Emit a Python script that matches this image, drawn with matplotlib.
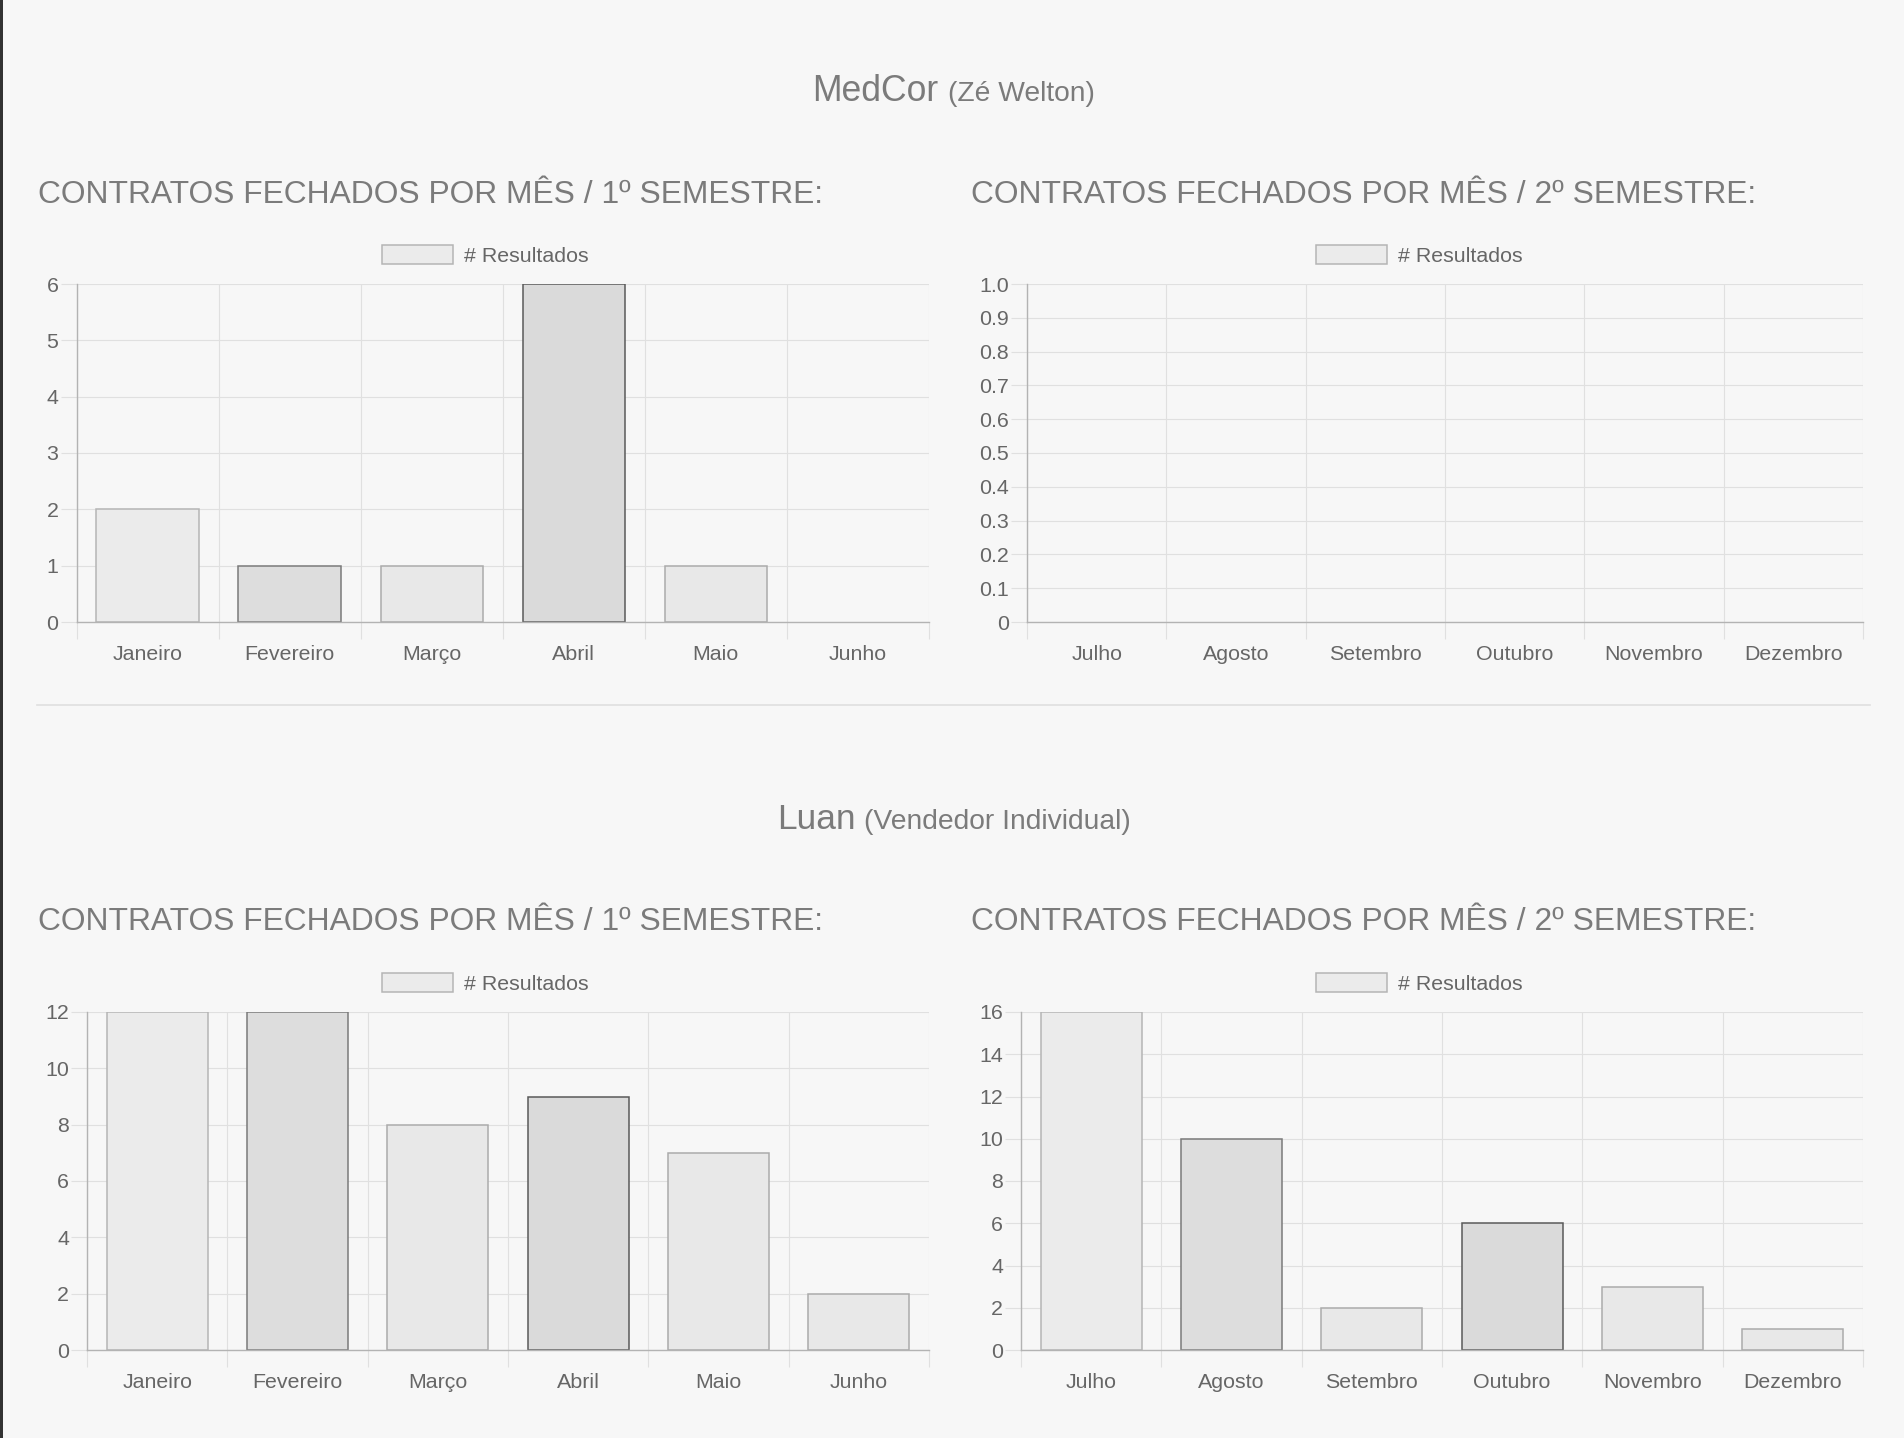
import matplotlib
matplotlib.use("Agg")
import matplotlib.pyplot as plt
from matplotlib.patches import Patch, Rectangle
from matplotlib.lines import Line2D

plt.rcParams['font.family'] = ['Liberation Sans', 'DejaVu Sans']

# ---------------- data ----------------
months_s1 = ["Janeiro", "Fevereiro", "Março", "Abril", "Maio", "Junho"]
months_s2 = ["Julho", "Agosto", "Setembro", "Outubro", "Novembro", "Dezembro"]

medcor_s1 = [2, 1, 1, 6, 1, 0]
medcor_s2 = [0, 0, 0, 0, 0, 0]
luan_s1 = [12, 12, 8, 9, 7, 2]
luan_s2 = [16, 10, 2, 6, 3, 1]

yticks_medcor_s1 = [0, 1, 2, 3, 4, 5, 6]
yticks_medcor_s2 = [0, 0.1, 0.2, 0.3, 0.4, 0.5, 0.6, 0.7, 0.8, 0.9, 1.0]
ylabels_medcor_s2 = ["0", "0.1", "0.2", "0.3", "0.4", "0.5", "0.6", "0.7", "0.8", "0.9", "1.0"]
yticks_luan_s1 = [0, 2, 4, 6, 8, 10, 12]
yticks_luan_s2 = [0, 2, 4, 6, 8, 10, 12, 14, 16]

bar_fills = ['#ebebeb', '#dddddd', '#e8e8e8', '#dadada', '#e8e8e8', '#e8e8e8']
bar_edges = ['#b5b5b5', '#7a7a7a', '#ababab', '#5a5a5a', '#ababab', '#ababab']

legend_label = "# Resultados"
title_s1 = "CONTRATOS FECHADOS POR MÊS / 1º SEMESTRE:"
title_s2 = "CONTRATOS FECHADOS POR MÊS / 2º SEMESTRE:"

# ---------------- figure ----------------
W, H = 1904, 1438
BG = '#f7f7f7'
GRID = '#e0e0e0'
AXIS = '#b3b3b3'
TICK_TXT = '#666666'
TITLE_TXT = '#7b7b7b'

fig = plt.figure(figsize=(W / 100, H / 100), dpi=100, facecolor=BG)


def fx(px):
    return px / W


def fy(py):
    return 1 - py / H


def make_chart(x0, x1, yt, yb, cats, vals, yticks, ylabels, leg_cx, leg_cy):
    ax = fig.add_axes([fx(x0), fy(yb), fx(x1 - x0), (yb - yt) / H])
    ax.set_facecolor(BG)
    xs = list(range(len(cats)))
    lws = [1.1 if v else 0.0 for v in vals]
    ax.bar(xs, vals, width=0.72, color=bar_fills[:len(cats)],
           edgecolor=bar_edges[:len(cats)], linewidth=lws, zorder=3)
    ax.set_xlim(-0.5, len(cats) - 0.5)
    ax.set_ylim(yticks[0], yticks[-1])
    ax.set_xticks(xs)
    ax.set_xticklabels(cats)
    ax.set_xticks([i - 0.5 for i in range(len(cats) + 1)], minor=True)
    ax.set_yticks(yticks)
    if ylabels is not None:
        ax.set_yticklabels(ylabels)
    ax.tick_params(axis='x', which='major', length=0, pad=16.5,
                   labelsize=15.4, labelcolor=TICK_TXT)
    ax.tick_params(axis='x', which='minor', length=12, width=0.8, color=GRID)
    ax.tick_params(axis='y', which='major', length=11.5, width=0.8, color=GRID,
                   pad=1.5, labelsize=15.4, labelcolor=TICK_TXT)
    ax.grid(True, axis='x', which='minor', color=GRID, linewidth=0.8, zorder=0)
    ax.grid(True, axis='y', which='major', color=GRID, linewidth=0.8, zorder=0)
    ax.grid(False, axis='x', which='major')
    ax.set_axisbelow(True)
    for s in ('top', 'right'):
        ax.spines[s].set_visible(False)
    for s in ('left', 'bottom'):
        ax.spines[s].set_color(AXIS)
        ax.spines[s].set_linewidth(1.0)
        ax.spines[s].set_zorder(4)
    handle = Patch(facecolor=bar_fills[0], edgecolor=bar_edges[0], linewidth=1.1)
    ax.legend(handles=[handle], labels=[legend_label], loc='center',
              bbox_to_anchor=(fx(leg_cx), fy(leg_cy)), bbox_transform=fig.transFigure,
              frameon=False, fontsize=15.4, handlelength=3.32, handleheight=1.0,
              handletextpad=0.5, borderpad=0, borderaxespad=0, labelcolor=TICK_TXT)
    return ax


# top section
fig.text(fx(812), fy(100.7), "MedCor", fontsize=25.6, color=TITLE_TXT,
         ha='left', va='baseline')
fig.text(fx(948), fy(100.7), "(Zé Welton)", fontsize=20.3, color=TITLE_TXT,
         ha='left', va='baseline')
fig.text(fx(37.6), fy(203), title_s1, fontsize=22.9, color=TITLE_TXT,
         ha='left', va='baseline')
fig.text(fx(971), fy(203), title_s2, fontsize=22.9, color=TITLE_TXT,
         ha='left', va='baseline')

make_chart(76.5, 929, 284, 622, months_s1, medcor_s1, yticks_medcor_s1, None, 485, 255.5)
make_chart(1027, 1863, 284, 622, months_s2, medcor_s2, yticks_medcor_s2,
           ylabels_medcor_s2, 1419, 255.5)

# separator
fig.add_artist(Line2D([fx(37), fx(1870)], [fy(705), fy(705)], color='#e0e0e0',
                      linewidth=1.2, transform=fig.transFigure))

# bottom section
fig.text(fx(777), fy(829), "Luan", fontsize=25.4, color=TITLE_TXT,
         ha='left', va='baseline')
fig.text(fx(864), fy(829), "(Vendedor Individual)", fontsize=20.3, color=TITLE_TXT,
         ha='left', va='baseline')
fig.text(fx(37.6), fy(930), title_s1, fontsize=22.9, color=TITLE_TXT,
         ha='left', va='baseline')
fig.text(fx(971), fy(930), title_s2, fontsize=22.9, color=TITLE_TXT,
         ha='left', va='baseline')

make_chart(87, 929, 1012, 1350, months_s1, luan_s1, yticks_luan_s1, None, 485, 983.5)
make_chart(1021, 1863, 1012, 1350, months_s2, luan_s2, yticks_luan_s2, None, 1419, 983.5)

# dark left border
fig.add_artist(Rectangle((0, 0), fx(2.5), 1, transform=fig.transFigure,
                         facecolor='#333333', edgecolor='none'))

fig.savefig("out.png", dpi=100, facecolor=BG)
